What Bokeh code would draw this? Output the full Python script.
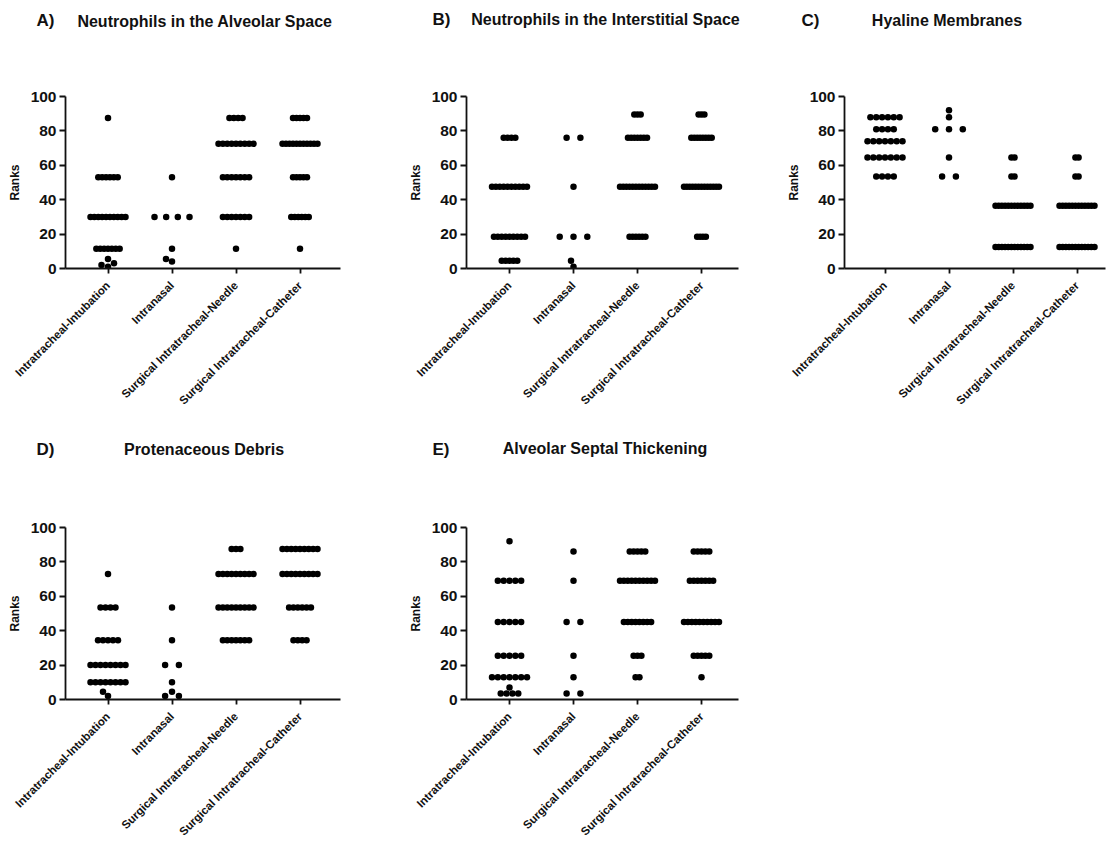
from math import pi, hypot

from bokeh.core.properties import value
from bokeh.embed import file_html
from bokeh.layouts import column, row
from bokeh.models import FixedTicker, Range1d
from bokeh.plotting import figure
from bokeh.resources import INLINE

# ---------------------------------------------------------------- data
groups = [
    "Intratracheal-Intubation",
    "Intranasal",
    "Surgical Intratracheal-Needle",
    "Surgical Intratracheal-Catheter",
]
rank_ticks = [0, 20, 40, 60, 80, 100]
panel_letters = ["A)", "B)", "C)", "D)", "E)"]
panel_titles = [
    "Neutrophils in the Alveolar Space",
    "Neutrophils in the Interstitial Space",
    "Hyaline Membranes",
    "Protenaceous Debris",
    "Alveolar Septal Thickening",
]

# A) Neutrophils in the Alveolar Space (ranks)
alv_intub = [87.5] + [53] * 6 + [30] * 10 + [11.5] * 7 + [5.5, 3, 2, 1]
alv_nasal = [53, 30, 30, 30, 30, 11.5, 5.5, 4]
alv_needle = [87.5] * 4 + [72.5] * 9 + [53] * 7 + [30] * 7 + [11.5]
alv_cath = [87.5] * 5 + [72.5] * 11 + [53] * 5 + [30] * 6 + [11.5]

# B) Neutrophils in the Interstitial Space
int_intub = [76] * 4 + [47.5] * 10 + [18.5] * 9 + [4.5] * 5
int_nasal = [76, 76, 47.5, 18.5, 18.5, 18.5, 4.5, 1]
int_needle = [89.5] * 3 + [76] * 7 + [47.5] * 12 + [18.5] * 6
int_cath = [89.5] * 3 + [76] * 8 + [47.5] * 13 + [18.5] * 4

# C) Hyaline Membranes
hya_intub = [88] * 6 + [81] * 4 + [74] * 7 + [64.5] * 7 + [53.5] * 4
hya_nasal = [92, 88, 81, 81, 81, 64.5, 53.5, 53.5]
hya_needle = [64.5] * 2 + [53.5] * 2 + [36.5] * 12 + [12.5] * 12
hya_cath = [64.5] * 2 + [53.5] * 2 + [36.5] * 12 + [12.5] * 12

# D) Protenaceous Debris
deb_intub = [73] + [53.5] * 4 + [34.5] * 5 + [20] * 8 + [10] * 8 + [4.5, 2]
deb_nasal = [53.5, 34.5, 20, 20, 10, 4.5, 2, 2]
deb_needle = [87.5] * 3 + [73] * 9 + [53.5] * 9 + [34.5] * 7
deb_cath = [87.5] * 9 + [73] * 9 + [53.5] * 6 + [34.5] * 4

# E) Alveolar Septal Thickening
sep_intub = [92] + [69] * 5 + [45] * 5 + [25.5] * 5 + [13] * 7 + [7] + [3.5] * 4
sep_nasal = [86, 69, 45, 45, 25.5, 13, 3.5, 3.5]
sep_needle = [86] * 5 + [69] * 10 + [45] * 8 + [25.5] * 3 + [13] * 2
sep_cath = [86] * 5 + [69] * 7 + [45] * 10 + [25.5] * 5 + [13]

# ---------------------------------------------------------------- style
FONT = "Liberation Sans"
INK = "#111111"
DOT = 6.5          # marker diameter, px
CAT_PX = 64.0      # distance between group columns, px
FRAME_H = 172      # plot-area height, px
PAGE_W = 1109


def scatter_offsets(vals, px_x, px_y, dot=DOT, max_gap=13.8, span=35.0):
    """Column scatter layout: equal values sit side by side in a centred
    row; rows that would touch an earlier row are slid sideways."""
    levels = sorted(set(vals))
    counts = {v: vals.count(v) for v in levels}
    kmax = max(counts.values())
    step = max_gap if kmax < 2 else min(max_gap, span / (kmax - 1))
    shifts = [0.0]
    for i in range(1, 100):
        shifts += [-0.5 * i, 0.5 * i]
    placed, xs, ys = [], [], []
    for v in levels:
        k = counts[v]
        base = [(i - (k - 1) / 2) * step for i in range(k)]
        yp = v * px_y
        chosen = 0.0
        for sh in shifts:
            if all(hypot(b + sh - qx, yp - qy) >= dot
                   for b in base for (qx, qy) in placed):
                chosen = sh
                break
        for b in base:
            placed.append((b + chosen, yp))
            xs.append((b + chosen) / px_x)
            ys.append(v)
    return xs, ys


def panel(series, fig_w, fig_h, left, top, frame_w, first_gap):
    x0 = 1 - first_gap / CAT_PX
    p = figure(width=fig_w, height=fig_h, output_backend="svg",
               toolbar_location=None, tools="",
               x_range=Range1d(x0, x0 + frame_w / CAT_PX),
               y_range=Range1d(0, 100),
               min_border_left=left, min_border_top=top,
               min_border_right=fig_w - left - frame_w,
               min_border_bottom=fig_h - top - FRAME_H)
    p.title.text = ""
    p.outline_line_color = None
    p.grid.visible = False
    p.background_fill_color = "white"
    p.border_fill_color = "white"

    px_y = FRAME_H / 100.0
    for i, vals in enumerate(series):
        xs, ys = scatter_offsets(vals, CAT_PX, px_y)
        p.scatter([i + 1 + dx for dx in xs], ys, size=DOT,
                  fill_color="black", line_color=None)

    for ax in (p.xaxis[0], p.yaxis[0]):
        ax.axis_line_color = INK
        ax.axis_line_width = 1.8
        ax.major_tick_line_color = INK
        ax.major_tick_line_width = 1.8
        ax.major_tick_in = 0
        ax.minor_tick_line_color = None
        ax.major_label_text_font = FONT
        ax.major_label_text_font_style = "bold"
        ax.major_label_text_color = INK

    xa = p.xaxis[0]
    xa.ticker = FixedTicker(ticks=[1, 2, 3, 4])
    xa.major_label_overrides = {i + 1: g for i, g in enumerate(groups)}
    xa.major_label_orientation = pi / 4
    xa.major_label_text_font_size = "11.5px"
    xa.major_tick_out = 5
    xa.major_label_standoff = 10

    ya = p.yaxis[0]
    ya.ticker = FixedTicker(ticks=rank_ticks)
    ya.major_label_text_font_size = "15.5px"
    ya.major_tick_out = 6
    ya.major_label_standoff = 3
    ya.axis_label = "Ranks"
    ya.axis_label_text_font = FONT
    ya.axis_label_text_font_style = "bold"
    ya.axis_label_text_font_size = "12px"
    ya.axis_label_text_color = INK
    ya.axis_label_standoff = 6
    return p


def heading_strip(height, letter_pos, title_pos, letters, titles):
    """A blank strip holding the panel letters and panel headings; its
    ranges are in pixels so the text lands above the matching panel."""
    h = figure(width=PAGE_W, height=height, output_backend="svg",
               toolbar_location=None, tools="",
               x_range=Range1d(0, PAGE_W), y_range=Range1d(height, 0),
               x_axis_location=None, y_axis_location=None,
               min_border=0)
    h.title.text = ""
    h.outline_line_color = None
    h.grid.visible = False
    h.text(x=[q[0] for q in letter_pos], y=[q[1] for q in letter_pos],
           text=letters, text_font=value(FONT), text_font_style="bold",
           text_font_size="17px", text_color=INK,
           text_align="left", text_baseline="middle")
    h.text(x=[q[0] for q in title_pos], y=[q[1] for q in title_pos],
           text=titles, text_font=value(FONT), text_font_style="bold",
           text_font_size="16px", text_color=INK,
           text_align="center", text_baseline="middle")
    return h


TOP_STRIP = 44     # page rows 0..44
MID_STRIP = 36     # page rows 422..458
ROW1_H = 422 - TOP_STRIP
ROW2_H = 844 - 422 - MID_STRIP

head1 = heading_strip(TOP_STRIP, [(36, 20), (432, 19), (801, 20)],
                      [(204.5, 21), (605, 19), (946.5, 20)],
                      panel_letters[:3], panel_titles[:3])
pA = panel([alv_intub, alv_nasal, alv_needle, alv_cath],
           370, ROW1_H, 65, 96 - TOP_STRIP, 275, 42.5)
pB = panel([int_intub, int_nasal, int_needle, int_cath],
           370, ROW1_H, 96, 96 - TOP_STRIP, 272, 43)
pC = panel([hya_intub, hya_nasal, hya_needle, hya_cath],
           369, ROW1_H, 104, 96 - TOP_STRIP, 261, 40.5)

head2 = heading_strip(MID_STRIP, [(36, 27), (432, 27)],
                      [(203.5, 27), (604.5, 26)],
                      panel_letters[3:], panel_titles[3:])
pD = panel([deb_intub, deb_nasal, deb_needle, deb_cath],
           370, ROW2_H, 65, 527 - 422 - MID_STRIP, 275, 42.5)
pE = panel([sep_intub, sep_nasal, sep_needle, sep_cath],
           370, ROW2_H, 96, 527 - 422 - MID_STRIP, 272, 43)

layout = column(head1, row(pA, pB, pC), head2, row(pD, pE))
open("out.html", "w").write(file_html(layout, INLINE))
